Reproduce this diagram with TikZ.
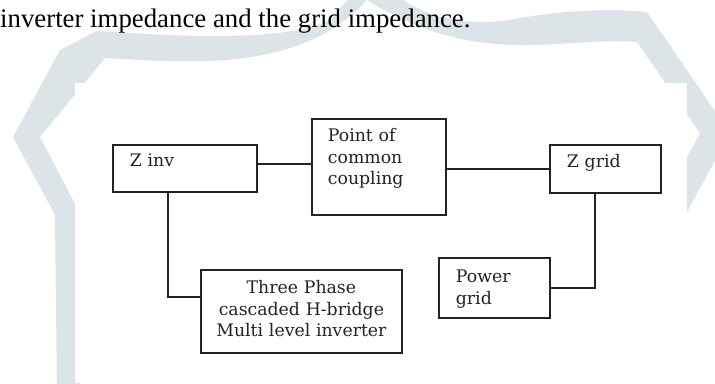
\documentclass[tikz,border=0pt]{standalone}
\usepackage{fontspec}
\setmainfont{Liberation Serif}
\newfontfamily\boxfont{DejaVu Serif}

\definecolor{wmark}{RGB}{221,228,232}
\definecolor{ink}{RGB}{35,35,35}

\begin{document}
\begin{tikzpicture}[x=1pt, y=-1pt,
          block/.style = {draw=ink, line width=1.8pt, rectangle, anchor=north west, inner ysep=0pt, align=left, text=ink, font=\boxfont\fontsize{17.3}{21.5}\selectfont},
          link/.style = {draw=ink, line width=1.8pt}
        ]
        \useasboundingbox (0,0) rectangle (715,383);
        \clip (0,0) rectangle (715,383);
        \fill[white] (0,0) rectangle (715,383);

        \fill[wmark] (57,400) -- (55,215) -- (13,137) -- (60,50) -- (97,31)
          .. controls (200,38) and (290,40) .. (330,20) -- (360,-15) -- (385,-15)
          .. controls (420,20) and (470,28) .. (520,18)
          .. controls (560,11) and (610,8) .. (647,12)
          -- (730,133) -- (680,225) -- (650,225) -- (700,133) -- (637,42)
          .. controls (560,36) and (480,70) .. (367,0)
          .. controls (300,75) and (180,62) .. (105,58)
          -- (40,137) -- (73,200) -- (80,215) -- (80,400) -- cycle;
        \fill[white] (75,83) rectangle (687,383);

        \node[anchor=base west, inner sep=0pt, font=\fontsize{26.8}{31}\selectfont] (title) at (0,27) {inverter impedance and the grid impedance.};

        \node[block, inner xsep=17pt, text width=110pt, text height=22pt, text depth=25pt] (zinv) at (112,144) {Z inv};
        \node[block, inner xsep=16pt, text width=102pt, text height=23pt, text depth=73pt] (pcc) at (311,118) {Point of\\common\\coupling};
        \node[block, inner xsep=17pt, text width=77pt, text height=23pt, text depth=25pt] (zgrid) at (549,144) {Z grid};
        \node[block, inner xsep=17pt, text width=77pt, text height=25pt, text depth=35pt] (power) at (438,257) {Power\\grid};
        \node[block, align=center, inner xsep=0pt, text width=201pt, text height=24pt, text depth=59pt] (inv) at (200,269) {Three Phase\\cascaded H-bridge\\Multi level inverter};

        \draw[link] ([yshift=4.5pt]zinv.east) -- ([yshift=4.5pt]zinv.east -| pcc.west);
        \draw[link] (pcc.east |- zgrid.west) -- (zgrid.west);
        \draw[link] ([xshift=-10.5pt]zgrid.south) |- (power.east);
        \draw[link] ([xshift=-17pt]zinv.south) |- ([yshift=14.5pt]inv.west);
      \end{tikzpicture}
\end{document}
